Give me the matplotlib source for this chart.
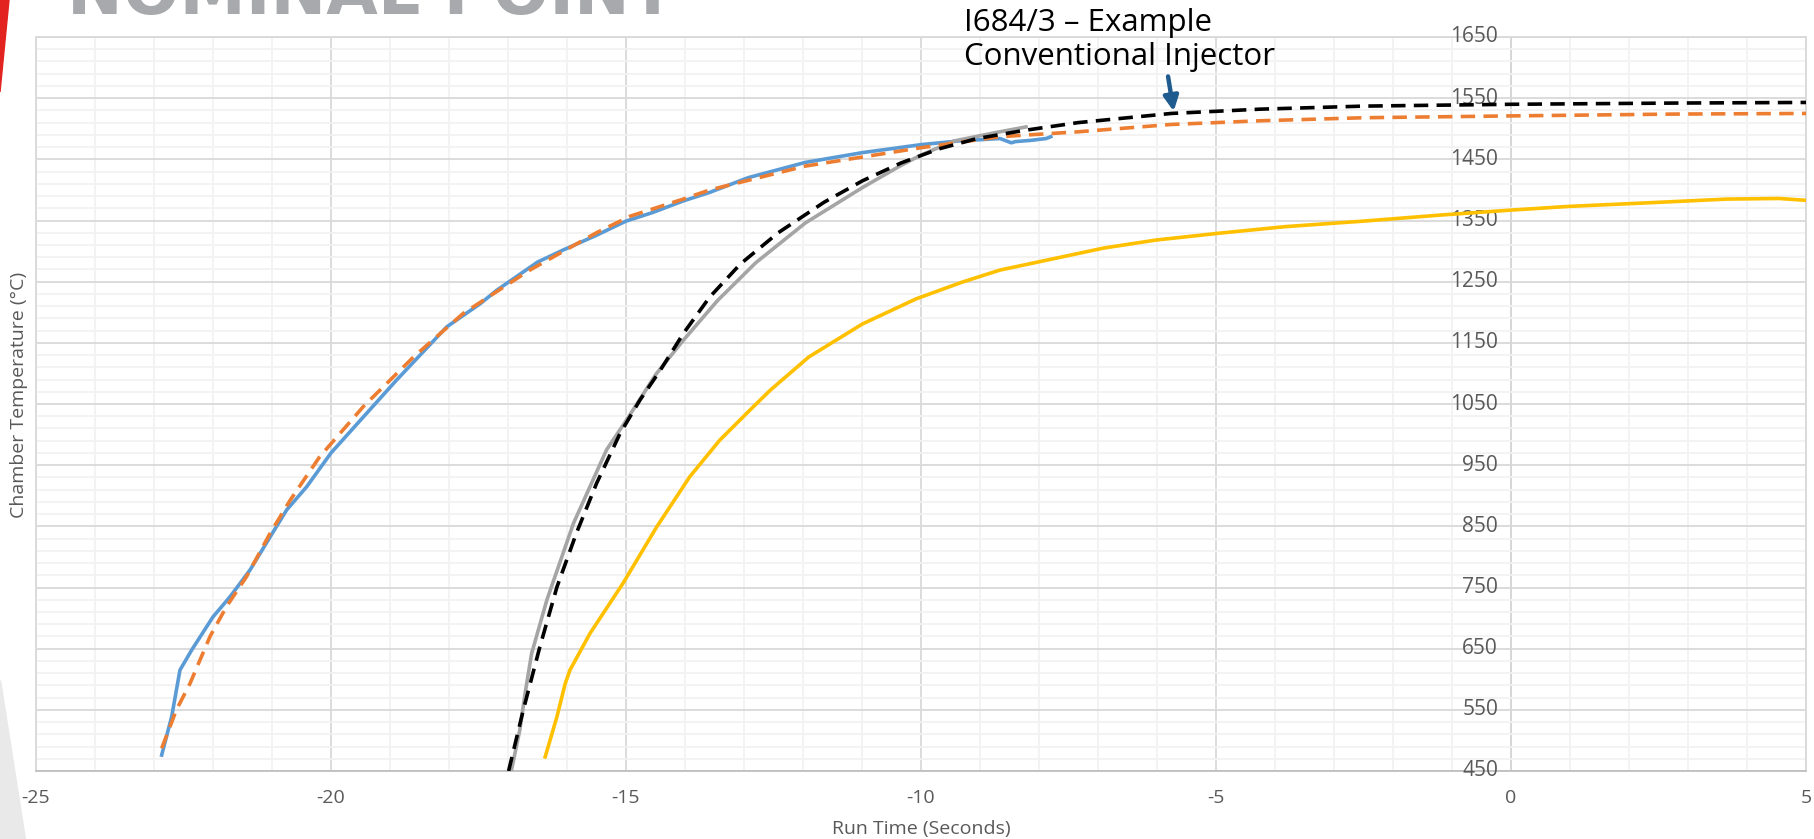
import numpy as np
import matplotlib.pyplot as plt
from matplotlib.patches import Polygon

plt.rcParams['font.family'] = ['Open Sans', 'DejaVu Sans']
plt.rcParams['axes.unicode_minus'] = False

# ---- data (Run time s, chamber temp degC) ----
blue_t = [-22.87, -22.7, -22.56, -22.36, -22.0, -21.71, -21.37, -21.03, -20.75,
          -20.41, -20.0, -19.45, -18.89, -18.04, -17.47, -17.19, -16.5, -16.06,
          -15.52, -15.0, -14.55, -14.03, -13.58, -12.93, -11.96, -10.99, -10.0,
          -9.37, -8.66, -8.47, -8.4, -8.14, -7.88, -7.8]
blue_T = [476, 539, 615, 648, 702, 735, 779, 833, 877,
          915, 970, 1029, 1089, 1176, 1214, 1236, 1282, 1302,
          1325, 1349, 1363, 1382, 1396, 1420, 1445, 1461, 1474,
          1480, 1484, 1477, 1479, 1481, 1484, 1487]

orange_t = [-22.87, -22.62, -22.39, -22.05, -21.77, -21.43, -21.03, -20.69, -20.19,
            -19.45, -18.6, -17.76, -16.63, -15.5, -14.93, -14.03, -13.58, -11.96,
            -10.0, -8.66, -7.34, -5.76, -4.26, -2.5, 0.0, 2.78, 5.0]
orange_T = [487, 550, 593, 670, 719, 768, 839, 893, 964,
            1046, 1127, 1198, 1269, 1330, 1357, 1385, 1400, 1439,
            1469, 1487, 1495, 1507, 1513, 1518, 1521, 1524, 1525]

gray_t = [-16.94, -16.8, -16.71, -16.6, -16.34, -15.89, -15.33, -14.99, -14.49,
          -14.03, -13.45, -12.8, -11.96, -10.99, -10.34, -10.0, -9.44, -8.72, -8.22]
gray_T = [452, 517, 577, 642, 730, 855, 975, 1024, 1099,
          1154, 1219, 1281, 1346, 1404, 1440, 1457, 1480, 1494, 1503]

black_t = [-16.99, -16.74, -16.46, -16.17, -15.84, -15.5, -15.1, -14.76, -14.42,
           -14.03, -13.58, -13.06, -12.42, -11.64, -10.99, -10.34, -9.7, -9.05,
           -8.27, -7.34, -5.76, -4.26, -2.5, 0.0, 2.78, 5.0]
black_T = [450, 550, 653, 751, 839, 920, 1002, 1057, 1105,
           1165, 1225, 1279, 1330, 1380, 1415, 1444, 1467, 1484,
           1497, 1510, 1525, 1532, 1537, 1540, 1542, 1543]

yellow_t = [-16.37, -16.17, -16.03, -15.95, -15.61, -15.05, -14.48, -13.92, -13.41,
            -12.9, -12.55, -11.9, -10.99, -10.08, -9.31, -8.66, -7.78, -6.9,
            -6.02, -4.97, -3.82, -2.5, -1.18, 0.0, 0.97, 2.34, 3.66, 4.54, 5.0]
yellow_T = [473, 539, 593, 615, 675, 757, 849, 931, 991,
            1040, 1073, 1127, 1181, 1222, 1249, 1269, 1287, 1305,
            1318, 1329, 1340, 1349, 1359, 1367, 1373, 1379, 1385, 1386, 1383]

x_ticks = [-25, -20, -15, -10, -5, 0, 5]
y_ticks = list(range(450, 1651, 100))

annot_text = 'I684/3 \u2013 Example\nConventional Injector'

W, H = 1814, 839
fig = plt.figure(figsize=(W / 100, H / 100), dpi=100)

# slide decorations behind the chart
fig.text(67 / W, 1 - 14 / H, 'NOMINAL POINT', fontsize=48, fontweight='bold',
         color='#a7a9ac', family='DejaVu Sans', va='baseline', ha='left')
fig.patches.append(Polygon([(0, 1), (9 / W, 1), (0, 1 - 92 / H)], closed=True,
                           transform=fig.transFigure, color='#e3231f', zorder=0))
fig.patches.append(Polygon([(0, 1 - 680 / H), (0, 0), (25 / W, 0)], closed=True,
                           transform=fig.transFigure, color='#e9e9e9', zorder=0))

ax = fig.add_axes([36 / W, 68 / H, 1770 / W, 734 / H])
ax.set_xlim(-25, 5)
ax.set_ylim(450, 1650)

# grid
ax.set_xticks(x_ticks)
ax.set_xticks(np.arange(-25, 5.01, 1), minor=True)
ax.set_yticks(y_ticks)
ax.set_yticks(np.arange(450, 1651, 20), minor=True)
ax.grid(which='minor', color='#f2f2f2', lw=1.3, zorder=0)
ax.grid(which='major', color='#d9d9d9', lw=1.3, zorder=0)
for s in ax.spines.values():
    s.set_color('#d9d9d9')
    s.set_linewidth(1.3)
ax.spines['bottom'].set_color('#bfbfbf')
ax.axvline(0, color='#bfbfbf', lw=1.3, zorder=1)

ax.tick_params(which='both', length=0)
ax.tick_params(axis='x', labelsize=14, labelcolor='#595959', pad=13)
ax.set_yticklabels([])
for v in y_ticks:
    ax.text(-0.22, v, str(v), ha='right', va='center', fontsize=15,
            color='#595959', clip_on=False)

# series
lw = 2.6
ax.plot(blue_t, blue_T, color='#5b9bd5', lw=lw, zorder=3)
ax.plot(orange_t, orange_T, color='#ed7d31', lw=lw, dashes=(4, 2.3), zorder=4)
ax.plot(gray_t, gray_T, color='#a5a5a5', lw=lw, zorder=3)
ax.plot(black_t, black_T, color='black', lw=lw, dashes=(4, 2.3), zorder=4)
ax.plot(yellow_t, yellow_T, color='#ffc000', lw=lw, zorder=3)

ax.text(-9.27, 1645, annot_text, fontsize=22.5, color='black', ha='left',
        va='center', linespacing=1.2, clip_on=False)
ax.annotate('', xy=(-5.71, 1524), xytext=(-5.82, 1590),
            arrowprops=dict(arrowstyle='-|>', lw=3.2, color='#1f5b8e',
                            mutation_scale=22), annotation_clip=False)

ax.set_xlabel('Run Time (Seconds)', fontsize=14, color='#595959', labelpad=9)
fig.text(19 / W, 1 - 395 / H, 'Chamber Temperature (\u00b0C)', rotation=90,
         fontsize=14, color='#595959', ha='center', va='center')

fig.savefig('out.png', dpi=100)
